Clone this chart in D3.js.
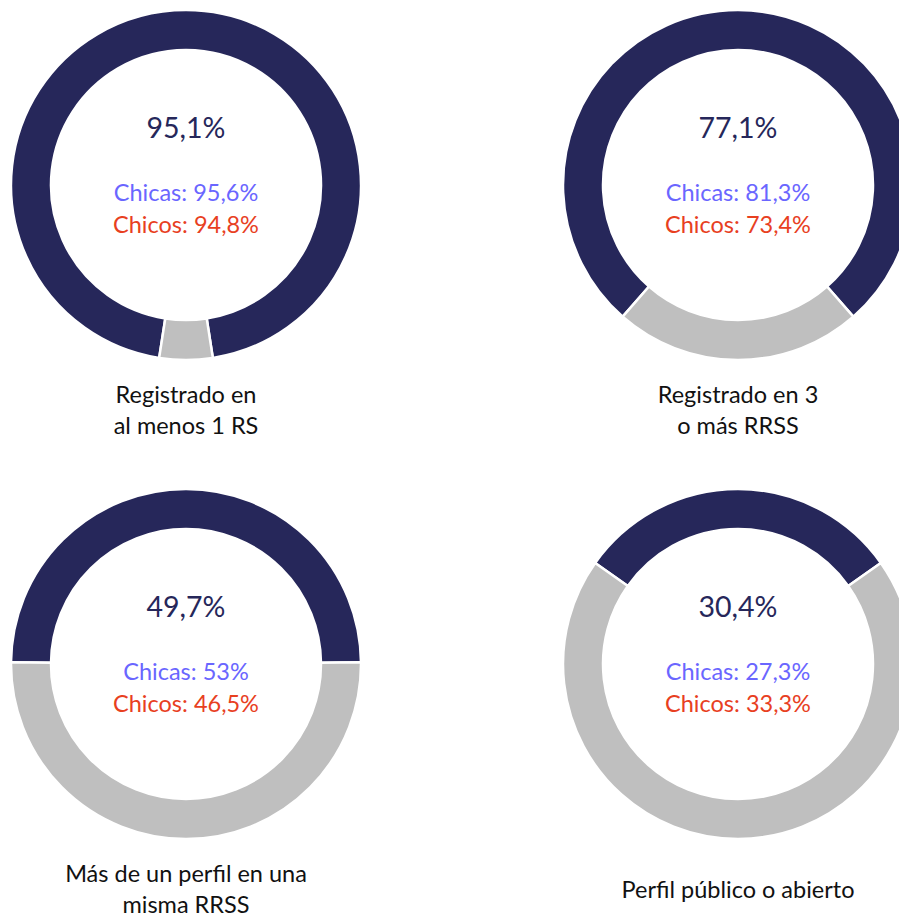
<!DOCTYPE html>
<html>
<head>
<meta charset="utf-8">
<script src="https://cdn.jsdelivr.net/npm/d3@7"></script>
<style>
  body { margin: 0; background: #fff; }
  svg { display: block; font-family: Lato, "Open Sans", sans-serif; }
</style>
</head>
<body>
<svg id="chart" width="899" height="917"></svg>
<script>
// values
var titles = [
  ["Registrado en", "al menos 1 RS"],
  ["Registrado en 3", "o más RRSS"],
  ["Más de un perfil en una", "misma RRSS"],
  ["Perfil público o abierto"]
];
var totals = [95.1, 77.1, 49.7, 30.4];
var chicas = [95.6, 81.3, 53, 27.3];
var chicos = [94.8, 73.4, 46.5, 33.3];

var navy = "#26275a", grey = "#bfbfbf", girlsColor = "#6a66ff", boysColor = "#e8401f";

var svg = d3.select("#chart");

// 2 x 2 grid of donuts
var col = d3.scalePoint().domain([0, 1]).range([186, 738]);
var row = d3.scalePoint().domain([0, 1]).range([185, 664]);

var locale = d3.formatLocale({ decimal: ",", thousands: ".", grouping: [3], currency: ["", "€"] });
var fmt = locale.format(".1~f");
var pct = function(v) { return fmt(v) + "%"; };

var arc = d3.arc().innerRadius(135).outerRadius(175);

var donuts = svg.selectAll(".donut").data(totals).enter().append("g")
  .attr("class", "donut")
  .attr("transform", function(d, i) {
    return "translate(" + col(i % 2) + "," + row(Math.floor(i / 2)) + ")";
  });

donuts.selectAll("path").data(function(t) {
    // dark slice centred on top
    var a = -Math.PI * t / 100;
    return d3.pie().sort(null).startAngle(a).endAngle(a + 2 * Math.PI)([t, 100 - t]);
  }).enter().append("path")
  .attr("d", arc)
  .attr("fill", function(d, i) { return i == 0 ? navy : grey; })
  .attr("stroke", "#fff")
  .attr("stroke-width", 2.5);

donuts.append("text")
  .attr("text-anchor", "middle")
  .attr("y", -47)
  .attr("font-size", 28.5)
  .attr("fill", navy)
  .text(function(d) { return pct(d); });

donuts.append("text")
  .attr("text-anchor", "middle")
  .attr("y", 16)
  .attr("font-size", 23.5)
  .attr("fill", girlsColor)
  .text(function(d, i) { return "Chicas: " + pct(chicas[i]); });

donuts.append("text")
  .attr("text-anchor", "middle")
  .attr("y", 48)
  .attr("font-size", 23.5)
  .attr("fill", boysColor)
  .text(function(d, i) { return "Chicos: " + pct(chicos[i]); });

var labels = donuts.append("text")
  .attr("text-anchor", "middle")
  .attr("font-size", 23.5)
  .attr("fill", "#111");

labels.selectAll("tspan").data(function(d, i) { return titles[i]; }).enter().append("tspan")
  .attr("x", 0)
  .attr("y", function(d, j, nodes) {
    var n = nodes.length;
    return 233.5 + (j - (n - 1) / 2) * 31;
  })
  .text(function(d) { return d; });
</script>
</body>
</html>
